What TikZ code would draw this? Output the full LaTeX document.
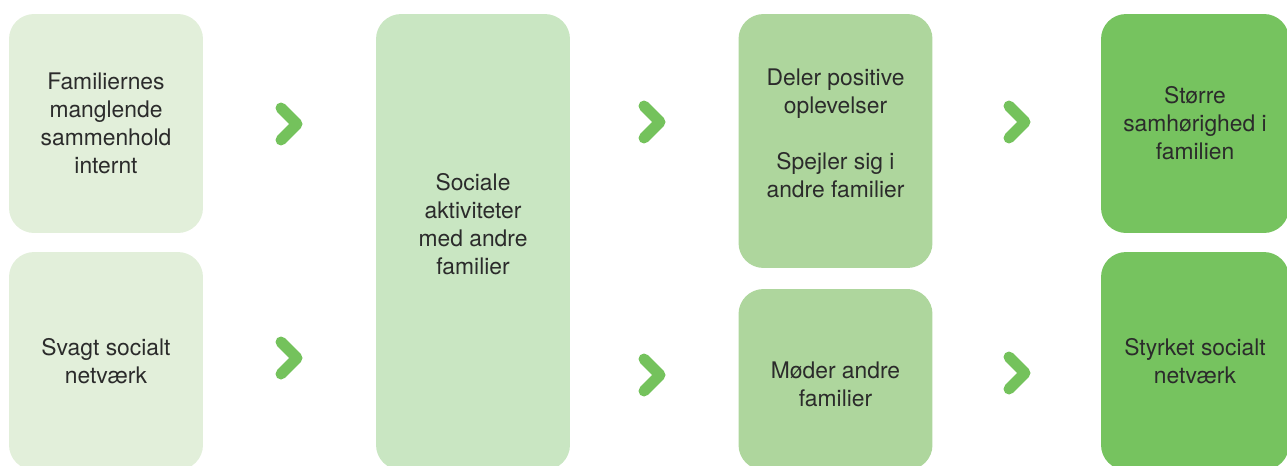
\documentclass[tikz,border=0pt]{standalone}
\usepackage{fontspec}
\setmainfont{TeX Gyre Heros}
\usetikzlibrary{positioning}

\definecolor{boxone}{HTML}{E2EFDA}
\definecolor{boxtwo}{HTML}{C9E6C2}
\definecolor{boxthree}{HTML}{AED69D}
\definecolor{boxfour}{HTML}{76C35F}
\definecolor{arrowgreen}{HTML}{74C25C}
\definecolor{textgray}{HTML}{2B2B2B}

\begin{document}
\begin{tikzpicture}[x=0.02cm, y=-0.02cm,
    boxtext/.style={align=center, text=textgray, inner sep=0pt, font=\fontsize{13}{15.9}\selectfont},
    box/.style={boxtext, rectangle, rounded corners=0.5cm, minimum width=3.88cm},
    pics/chev/.style={code={
        \draw[arrowgreen, line width=0.22cm, line cap=round, line join=round]
            (-8,-16) -- (8,0) -- (-8,16);}}]
                \useasboundingbox (0,0) rectangle (1287,466);

                % Starting point
                \node[box, fill=boxone, minimum height=4.38cm] (sammenhold) at (106,123.5) {Familiernes\\manglende\\sammenhold\\internt};
                \node[box, fill=boxone, minimum height=4.36cm] (netvaerk) at (106,361) {Svagt socialt\\netværk};

                % Activity
                \node[box, fill=boxtwo, minimum height=9.12cm,
                    label={[boxtext, yshift=0.36cm]center:{Sociale\\aktiviteter\\med andre\\familier}}] (aktiviteter) at (473,242) {};

                % Effects
                \node[box, fill=boxthree, minimum height=5.08cm,
                    label={[boxtext, yshift=0.16cm]center:{Deler positive\\oplevelser\\[15.9pt]Spejler sig i\\andre familier}}] (oplevelser) at (835.5,141) {};
                \node[box, fill=boxthree, minimum height=3.62cm,
                    label={[boxtext, yshift=-0.1cm]center:{Møder andre\\familier}}] (moeder) at (835.5,379.5) {};

                % Results
                \node[box, fill=boxfour, minimum width=3.76cm, minimum height=4.38cm] (samhoerighed) at (1195,123.5) {Større\\samhørighed i\\familien};
                \node[box, fill=boxfour, minimum width=3.76cm, minimum height=4.36cm] (styrket) at (1195,361) {Styrket socialt\\netværk};

                % Chevrons
                \pic at (289,124) {chev};
                \pic at (289,358) {chev};
                \pic at (652,122) {chev};
                \pic at (652,375) {chev};
                \pic at (1017,122) {chev};
                \pic at (1017,373) {chev};
            \end{tikzpicture}
\end{document}
